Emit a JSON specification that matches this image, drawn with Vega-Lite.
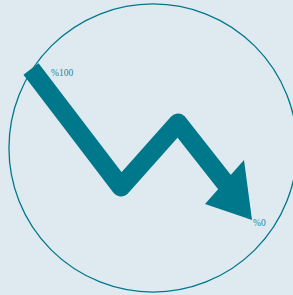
{
  "$schema": "https://vega.github.io/schema/vega-lite/v6.json",
  "width": 293,
  "height": 295,
  "padding": 0,
  "autosize": {"type": "none"},
  "background": "#dfeaf0",
  "config": {"view": {"stroke": null}},
  "layer": [
    {
      "data": {"values": [{"x": 153, "y": 148}]},
      "mark": {"type": "point", "shape": "circle", "size": 83000, "filled": false, "stroke": "#00788c", "strokeWidth": 1.3, "opacity": 1},
      "encoding": {
        "x": {"field": "x", "type": "quantitative", "scale": {"domain": [0, 293], "nice": false, "zero": false}, "axis": null},
        "y": {"field": "y", "type": "quantitative", "scale": {"domain": [0, 295], "reverse": true, "nice": false, "zero": false}, "axis": null}
      }
    },
    {
      "data": {"values": [
        {"x": 31, "y": 69, "o": 0},
        {"x": 121, "y": 187, "o": 1},
        {"x": 178, "y": 123, "o": 2},
        {"x": 226, "y": 184, "o": 3}
      ]},
      "mark": {"type": "line", "stroke": "#00788c", "strokeWidth": 19, "strokeJoin": "round", "strokeCap": "butt"},
      "encoding": {
        "x": {"field": "x", "type": "quantitative", "scale": {"domain": [0, 293], "nice": false, "zero": false}, "axis": null},
        "y": {"field": "y", "type": "quantitative", "scale": {"domain": [0, 295], "reverse": true, "nice": false, "zero": false}, "axis": null},
        "order": {"field": "o"}
      }
    },
    {
      "data": {"values": [
        {"x": 205, "y": 204, "y2": 204},
        {"x": 244, "y": 160, "y2": 217.3},
        {"x": 252, "y": 220, "y2": 220}
      ]},
      "mark": {"type": "area", "fill": "#00788c", "opacity": 1},
      "encoding": {
        "x": {"field": "x", "type": "quantitative", "scale": {"domain": [0, 293], "nice": false, "zero": false}, "axis": null},
        "y": {"field": "y", "type": "quantitative", "scale": {"domain": [0, 295], "reverse": true, "nice": false, "zero": false}, "axis": null},
        "y2": {"field": "y2"}
      }
    },
    {
      "data": {"values": [
        {"x": 51, "y": 73, "t": "%100"},
        {"x": 253, "y": 223, "t": "%0"}
      ]},
      "mark": {"type": "text", "font": "Liberation Serif", "fontSize": 9.5, "fill": "#1f8596", "align": "left", "baseline": "middle"},
      "encoding": {
        "x": {"field": "x", "type": "quantitative", "scale": {"domain": [0, 293], "nice": false, "zero": false}, "axis": null},
        "y": {"field": "y", "type": "quantitative", "scale": {"domain": [0, 295], "reverse": true, "nice": false, "zero": false}, "axis": null},
        "text": {"field": "t"}
      }
    }
  ]
}
